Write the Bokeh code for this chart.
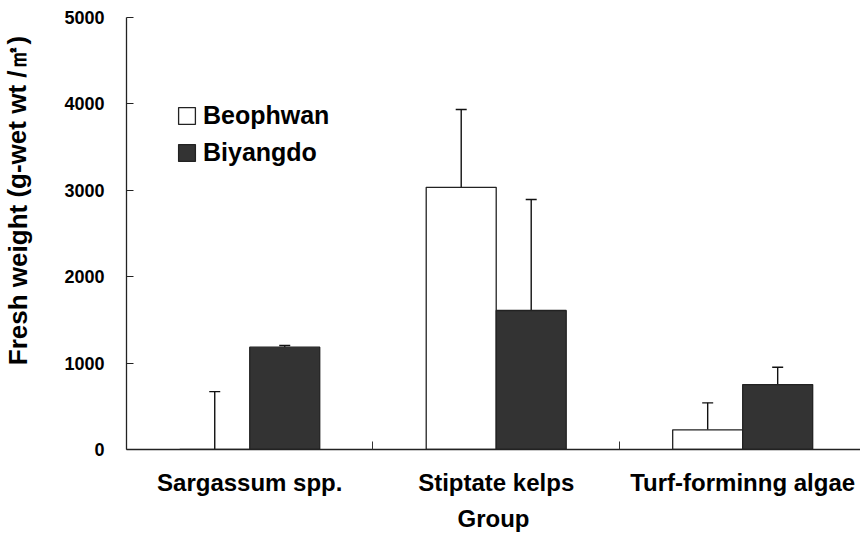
from bokeh.plotting import figure
from bokeh.models import (Range1d, FixedTicker, ColumnDataSource, Whisker, Legend,
                          LegendItem, Label, TeeHead)
from bokeh.embed import file_html
from bokeh.resources import INLINE

# ---- data ----
groups = ["Sargassum spp.", "Stiptate kelps", "Turf-forminng algae"]
series = ["Beophwan", "Biyangdo"]
beophwan_mean = [0, 3035, 228]
beophwan_err = [670, 900, 312]
biyangdo_mean = [1184, 1609, 752]
biyangdo_err = [20, 1285, 200]
y_ticks = [0, 1000, 2000, 3000, 4000, 5000]

FONT = "Liberation Sans"

W, H = 860, 539
p = figure(width=W, height=H, output_backend="svg", toolbar_location=None,
           x_range=Range1d(0, 2.978), y_range=Range1d(0, 5000),
           min_border_left=126, min_border_right=0, min_border_top=17,
           min_border_bottom=90)
p.outline_line_color = None
p.grid.visible = False
p.background_fill_color = "white"
p.border_fill_color = "white"

bar_w = 0.284
centers = [i + 0.5 for i in range(len(groups))]
x_b = [c - bar_w / 2 for c in centers]
x_y = [c + bar_w / 2 for c in centers]

src_b = ColumnDataSource(dict(x=x_b, top=beophwan_mean,
                              upper=[m + e for m, e in zip(beophwan_mean, beophwan_err)]))
src_y = ColumnDataSource(dict(x=x_y, top=biyangdo_mean,
                              upper=[m + e for m, e in zip(biyangdo_mean, biyangdo_err)]))

for src in (src_b, src_y):
    w = Whisker(base="x", lower="top", upper="upper", source=src,
                line_color="#111111", line_width=1.4,
                upper_head=TeeHead(size=11, line_color="#111111", line_width=1.4),
                lower_head=None, level="underlay")
    p.add_layout(w)

r_b = p.vbar(x="x", top="top", width=bar_w, source=src_b,
             fill_color="white", line_color="#222222", line_width=1.3)
r_y = p.vbar(x="x", top="top", width=bar_w, source=src_y,
             fill_color="#333333", line_color="#222222", line_width=1.3)

# x axis
xa = p.xaxis[0]
xa.ticker = FixedTicker(ticks=centers, minor_ticks=[1, 2])
xa.major_label_overrides = {c: g for c, g in zip(centers, groups)}
xa.major_tick_in = 0
xa.major_tick_out = 0
xa.minor_tick_in = 8
xa.minor_tick_out = 0
xa.minor_tick_line_color = "#333333"
xa.axis_line_color = "#222222"
xa.axis_line_width = 1.3
xa.major_label_text_font = FONT
xa.major_label_text_font_style = "bold"
xa.major_label_text_font_size = "24px"
xa.major_label_text_color = "black"
xa.major_label_standoff = 19
xa.axis_label = "Group"
xa.axis_label_text_font = FONT
xa.axis_label_text_font_style = "bold"
xa.axis_label_text_font_size = "24px"
xa.axis_label_text_color = "black"
xa.axis_label_standoff = 6

# y axis
ya = p.yaxis[0]
ya.ticker = FixedTicker(ticks=y_ticks)
ya.minor_tick_line_color = None
ya.major_tick_in = 7
ya.major_tick_out = 0
ya.major_tick_line_color = "#222222"
ya.axis_line_color = "#222222"
ya.axis_line_width = 1.3
ya.major_label_text_font = FONT
ya.major_label_text_font_style = "bold"
ya.major_label_text_font_size = "18px"
ya.major_label_text_color = "black"
ya.major_label_standoff = 22

ylab = Label(x=-14, y=249, x_units="screen", y_units="screen",
             text="Fresh weight (g-wet wt /㎡)", angle=1.5708,
             text_align="center", text_baseline="middle",
             text_font=FONT, text_font_style="bold", text_font_size="26px",
             text_color="black")
p.add_layout(ylab, "left")

legend = Legend(items=[LegendItem(label=series[0], renderers=[r_b]),
                       LegendItem(label=series[1], renderers=[r_y])],
                location=(50, 282), orientation="vertical",
                glyph_width=21, glyph_height=21, label_standoff=6,
                spacing=8, padding=0, margin=0,
                border_line_color=None, background_fill_alpha=0,
                label_text_font=FONT, label_text_font_style="bold",
                label_text_font_size="25px", label_text_color="black")
p.add_layout(legend)

open("out.html", "w").write(file_html(p, INLINE))
